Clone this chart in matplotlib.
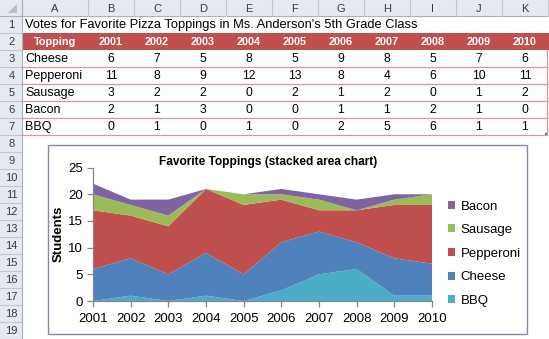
import matplotlib
matplotlib.use("Agg")
import matplotlib.pyplot as plt
from matplotlib.patches import Rectangle

plt.rcParams['font.family'] = ['Liberation Sans', 'DejaVu Sans']

# data
years = ['2001', '2002', '2003', '2004', '2005', '2006', '2007', '2008', '2009', '2010']
toppings = ['Cheese', 'Pepperoni', 'Sausage', 'Bacon', 'BBQ']
cheese = [6, 7, 5, 8, 5, 9, 8, 5, 7, 6]
pepperoni = [11, 8, 9, 12, 13, 8, 4, 6, 10, 11]
sausage = [3, 2, 2, 0, 2, 1, 2, 0, 1, 2]
bacon = [2, 1, 3, 0, 0, 1, 1, 2, 1, 0]
bbq = [0, 1, 0, 1, 0, 2, 5, 6, 1, 1]
table_rows = [cheese, pepperoni, sausage, bacon, bbq]
col_letters = ['A', 'B', 'C', 'D', 'E', 'F', 'G', 'H', 'I', 'J', 'K']

colors = {'BBQ': '#4BACC6', 'Cheese': '#4F81BD', 'Pepperoni': '#C0504D',
          'Sausage': '#9BBB59', 'Bacon': '#8064A2'}

W, H = 549, 339
fig = plt.figure(figsize=(W / 100, H / 100), dpi=100)
bg = fig.add_axes([0, 0, 1, 1])
bg.set_xlim(0, W)
bg.set_ylim(H, 0)
bg.axis('off')

# sheet geometry (pixels)
rh = 17.0
hdr_h = 16.0
rn_w = 22.0
col_x = [rn_w, 88] + [88 + 46 * i for i in range(1, 11)]
hdr_fill = '#E6EAF0'
hdr_line = '#C3C7CF'

# column header row
bg.add_patch(Rectangle((0, 0), W, hdr_h, facecolor=hdr_fill, edgecolor='none'))
bg.plot([0, W], [hdr_h, hdr_h], color='#A9B1BE', lw=0.8)
for x in col_x:
    bg.plot([x, x], [0, hdr_h], color=hdr_line, lw=0.8)
for i, c in enumerate(col_letters):
    bg.text((col_x[i] + col_x[i + 1]) / 2, hdr_h / 2 + 0.5, c, ha='center', va='center',
            fontsize=8, color='#3A3A3A')
bg.add_patch(plt.Polygon([[17, 4], [17, 13], [8, 13]], closed=True, facecolor='#B8BEC8', edgecolor='none'))

# row numbers
for r in range(1, 20):
    y0 = hdr_h + (r - 1) * rh
    bg.add_patch(Rectangle((0, y0), rn_w, rh, facecolor=hdr_fill, edgecolor='none'))
    bg.plot([0, rn_w], [y0 + rh, y0 + rh], color=hdr_line, lw=0.8)
    bg.text(rn_w / 2 + 0.5, y0 + rh / 2 + 0.5, str(r), ha='center', va='center',
            fontsize=8, color='#3A3A3A')
bg.plot([rn_w, rn_w], [0, H], color='#A9B1BE', lw=0.8)

def row_center(r):
    return hdr_h + (r - 1) * rh + rh / 2

# title row
bg.text(25, row_center(1) + 0.5, "Votes for Favorite Pizza Toppings in Ms. Anderson's 5th Grade Class",
        ha='left', va='center', fontsize=9.3, color='black')

# header band
y2 = hdr_h + rh
bg.add_patch(Rectangle((rn_w + 0.5, y2), W - rn_w, rh, facecolor='#C0504D', edgecolor='none'))
bg.text((col_x[0] + col_x[1]) / 2, row_center(2) + 0.5, 'Topping', ha='center', va='center',
        fontsize=7.8, fontweight='bold', color='white')
for j, yr in enumerate(years):
    bg.text((col_x[j + 1] + col_x[j + 2]) / 2, row_center(2) + 0.5, yr, ha='center', va='center',
            fontsize=7.8, fontweight='bold', color='white')

# table body
for i, name in enumerate(toppings):
    r = 3 + i
    bg.text(25, row_center(r) + 0.5, name, ha='left', va='center', fontsize=9, color='black')
    for j, v in enumerate(table_rows[i]):
        bg.text((col_x[j + 1] + col_x[j + 2]) / 2, row_center(r) + 0.5, str(v), ha='center',
                va='center', fontsize=8.8, color='black')
    yb = hdr_h + r * rh
    bg.plot([rn_w, 547], [yb, yb], color='#DA9694', lw=0.9)
bg.plot([547, 547], [hdr_h + 2 * rh, hdr_h + 7 * rh], color='#DA9694', lw=0.9)
bg.add_patch(Rectangle((545, hdr_h + 7 * rh - 2), 3, 3, facecolor='#4472C4', edgecolor='none'))

# chart box
bg.add_patch(Rectangle((48, 144.5), 479, 189.5, facecolor='white', edgecolor='#8A85A0', lw=1.0))

# chart axes
ax = fig.add_axes([93 / W, (H - 301) / H, (432 - 93) / W, (301 - 167.6) / H])
x = list(range(len(years)))
order = ['BBQ', 'Cheese', 'Pepperoni', 'Sausage', 'Bacon']
series = {'BBQ': bbq, 'Cheese': cheese, 'Pepperoni': pepperoni, 'Sausage': sausage, 'Bacon': bacon}
polys = ax.stackplot(x, [series[k] for k in order], labels=order,
                     colors=[colors[k] for k in order], linewidth=0)
ax.set_xlim(0, len(years) - 1)
ax.set_ylim(0, 25)
ax.set_yticks([0, 5, 10, 15, 20, 25])
ax.set_xticks(x)
ax.set_xticklabels(years)
ax.patch.set_alpha(0)
for s in ['top', 'right']:
    ax.spines[s].set_visible(False)
for s in ['left', 'bottom']:
    ax.spines[s].set_color('#868686')
    ax.spines[s].set_linewidth(0.9)
ax.tick_params(axis='both', colors='#868686', labelcolor='black', labelsize=9.5, length=4, width=0.9)
ax.tick_params(axis='x', pad=5)
ax.tick_params(axis='y', pad=3)
ax.set_ylabel('Students', fontsize=9.5, fontweight='bold', labelpad=3)
ax.set_title('Favorite Toppings (stacked area chart)', fontsize=8.6, fontweight='bold', pad=-2,
             x=(268 - 93) / (432 - 93))

handles = polys[::-1]
labels = order[::-1]
leg = ax.legend(handles, labels, loc='upper left', bbox_to_anchor=(448, 200.5),
                bbox_transform=bg.transData, frameon=False, fontsize=9.5,
                handlelength=0.55, handleheight=0.55, handletextpad=0.4,
                labelspacing=0.88, borderpad=0, borderaxespad=0)

fig.savefig('out.png', dpi=100)
